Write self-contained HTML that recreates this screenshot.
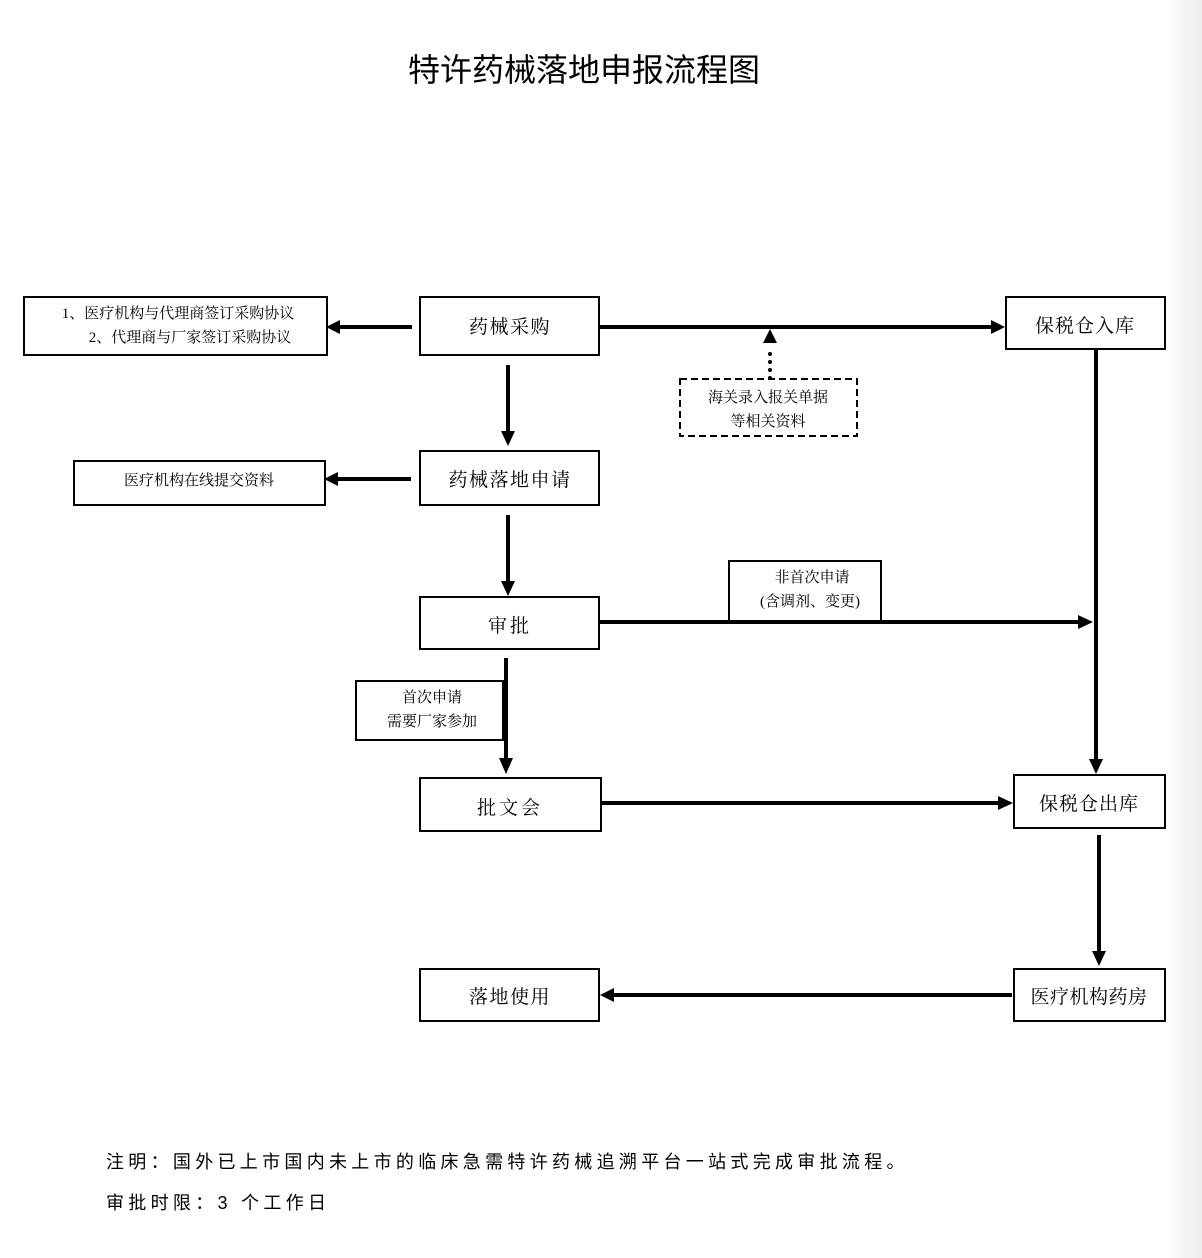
<!DOCTYPE html>
<html>
<head>
<meta charset="utf-8">
<style>
html,body{margin:0;padding:0;}
body{width:1202px;height:1258px;position:relative;overflow:hidden;
background:linear-gradient(to right,#ffffff 0px,#ffffff 1168px,#f4f4f4 1185px,#eeeeee 1202px);}
svg{position:absolute;left:0;top:0;}
.serif{font-family:"Liberation Serif","Noto Serif CJK SC",serif;}
.sans{font-family:"Liberation Sans","Noto Sans CJK SC",sans-serif;}
</style>
</head>
<body>
<svg width="1202" height="1258" viewBox="0 0 1202 1258" xmlns="http://www.w3.org/2000/svg">
  <!-- title -->
  <text x="584" y="81" text-anchor="middle" class="sans" font-size="32" fill="#000">特许药械落地申报流程图</text>

  <g fill="none" stroke="#000" stroke-width="2">
    <!-- boxes -->
    <rect x="24" y="297" width="303" height="58"/>
    <rect x="420" y="297" width="179" height="58"/>
    <rect x="1006" y="297" width="159" height="52"/>
    <rect x="74" y="461" width="251" height="44"/>
    <rect x="420" y="451" width="179" height="54"/>
    <rect x="420" y="597" width="179" height="52"/>
    <rect x="729" y="561" width="152" height="61"/>
    <rect x="356" y="681" width="147" height="59"/>
    <rect x="420" y="778" width="181" height="53"/>
    <rect x="1014" y="775" width="151" height="53"/>
    <rect x="1014" y="969" width="151" height="52"/>
    <rect x="420" y="969" width="179" height="52"/>
  </g>
  <!-- dashed box -->
  <rect x="680" y="379" width="177" height="57" fill="none" stroke="#000" stroke-width="2" stroke-dasharray="7,4"/>

  <!-- connectors -->
  <g stroke="#000" stroke-width="4" fill="none">
    <line x1="412" y1="327" x2="338" y2="327"/>
    <line x1="599" y1="327" x2="994" y2="327"/>
    <line x1="508" y1="365" x2="508" y2="433"/>
    <line x1="411" y1="479" x2="336" y2="479"/>
    <line x1="508" y1="515" x2="508" y2="583"/>
    <line x1="599" y1="622" x2="1080" y2="622"/>
    <line x1="1096" y1="349" x2="1096" y2="761"/>
    <line x1="506" y1="658" x2="506" y2="760"/>
    <line x1="601" y1="803" x2="1000" y2="803"/>
    <line x1="1099" y1="835" x2="1099" y2="953"/>
    <line x1="1012" y1="995" x2="612" y2="995"/>
  </g>
  <!-- dotted -->
  <line x1="770" y1="378" x2="770" y2="346" stroke="#000" stroke-width="4" stroke-linecap="round" stroke-dasharray="0,8"/>

  <g fill="#000">
    <!-- arrowheads -->
    <polygon points="326,327 340,320 340,334"/>
    <polygon points="1005,327 991,320 991,334"/>
    <polygon points="508,446 501,431 515,431"/>
    <polygon points="324,479 338,472 338,486"/>
    <polygon points="508,596 501,581 515,581"/>
    <polygon points="1093,622 1078,615 1078,629"/>
    <polygon points="1096,774 1089,759 1103,759"/>
    <polygon points="506,774 499,758 513,758"/>
    <polygon points="1013,803 998,796 998,810"/>
    <polygon points="1099,966 1092,951 1106,951"/>
    <polygon points="600,995 614,988 614,1002"/>
    <polygon points="770,329 763,343 777,343"/>
  </g>

  <!-- box text -->
  <g class="serif" fill="#000" text-anchor="middle">
    <text x="178" y="318" font-size="15">1、医疗机构与代理商签订采购协议</text>
    <text x="190" y="342" font-size="15">2、代理商与厂家签订采购协议</text>
    <text x="510" y="333" font-size="19" letter-spacing="1.5">药械采购</text>
    <text x="1085" y="332" font-size="19" letter-spacing="1">保税仓入库</text>
    <text x="768" y="402" font-size="15">海关录入报关单据</text>
    <text x="768" y="426" font-size="15">等相关资料</text>
    <text x="199" y="485" font-size="15">医疗机构在线提交资料</text>
    <text x="510" y="486" font-size="19" letter-spacing="1.5">药械落地申请</text>
    <text x="510" y="632" font-size="19" letter-spacing="3">审批</text>
    <text x="812" y="582" font-size="15">非首次申请</text>
    <text x="810" y="606" font-size="15">(含调剂、变更)</text>
    <text x="432" y="702" font-size="15">首次申请</text>
    <text x="432" y="726" font-size="15">需要厂家参加</text>
    <text x="510" y="814" font-size="19" letter-spacing="3">批文会</text>
    <text x="1089" y="810" font-size="19" letter-spacing="1">保税仓出库</text>
    <text x="1089" y="1003" font-size="19" letter-spacing="0.5">医疗机构药房</text>
    <text x="510" y="1003" font-size="19" letter-spacing="1.5">落地使用</text>
  </g>

  <!-- notes -->
  <g class="sans" fill="#000" font-size="18" letter-spacing="4.3">
    <text x="106" y="1168">注明：国外已上市国内未上市的临床急需特许药械追溯平台一站式完成审批流程。</text>
    <text x="106" y="1209">审批时限：3 个工作日</text>
  </g>
</svg>
</body>
</html>
